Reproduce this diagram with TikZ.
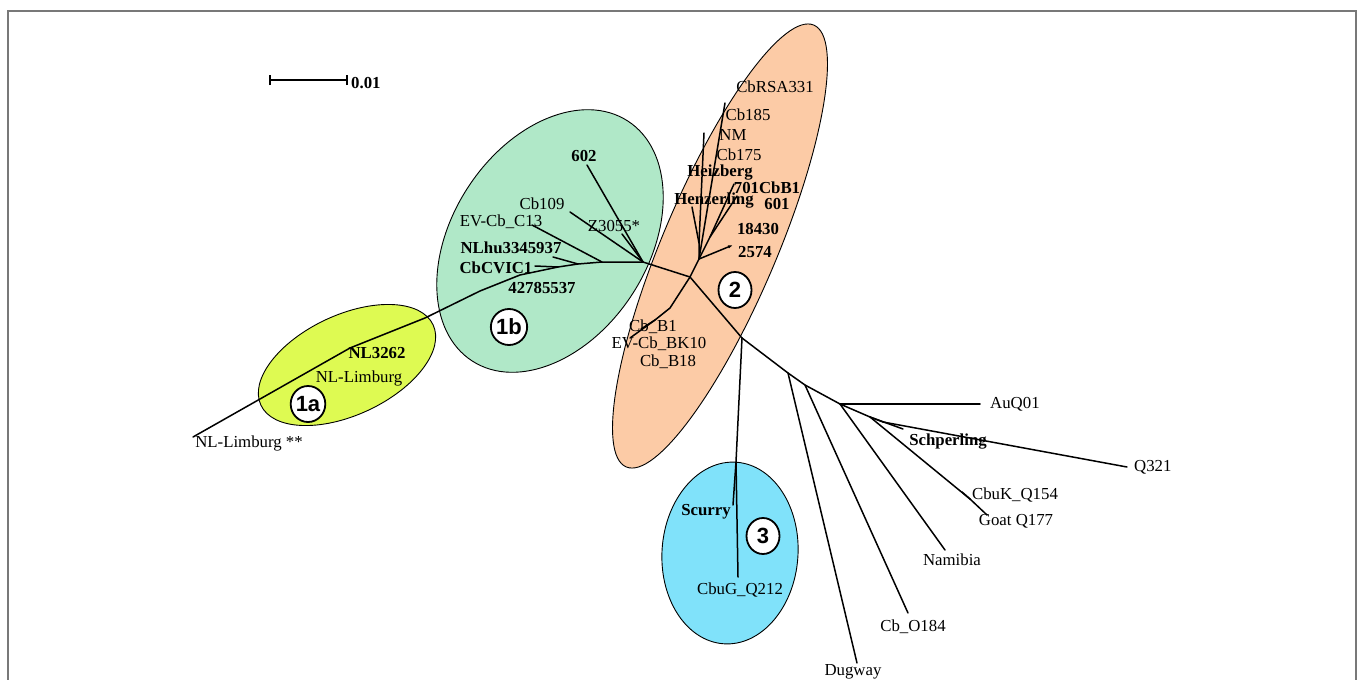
\documentclass[tikz,border=0pt]{standalone}
\usepackage{fontspec}
\setmainfont{Liberation Serif}
\newfontfamily\numfont{Liberation Sans}
\usetikzlibrary{shapes.geometric,arrows.meta}
\definecolor{cOr}{RGB}{252,203,166}
\definecolor{cGr}{RGB}{176,232,200}
\definecolor{cYe}{RGB}{222,250,82}
\definecolor{cBl}{RGB}{128,226,250}
\definecolor{frame}{RGB}{120,120,120}
\begin{document}
\begin{tikzpicture}[x=1pt,y=-1pt,
 br/.style={line width=1.5pt, line cap=round},
 lab/.style={font=\fontsize{16.8}{19}\selectfont, inner sep=0pt},
 blab/.style={font=\fontsize{16.8}{19}\selectfont\bfseries, inner sep=0pt},
 num/.style={ellipse, draw, fill=white, line width=1.8pt, minimum width=33pt, minimum height=36pt, inner sep=0pt, font=\numfont\bfseries\fontsize{22}{24}\selectfont},
 ell/.style={draw, line width=0.9pt}]
\useasboundingbox (0,0) rectangle (1358,680);
\draw[frame, line width=2pt] (8,681) -- (8,11) -- (1356,11) -- (1356,681);

% cluster ellipses
\draw[ell, fill=cYe, rotate around={25:(347,365)}] (347,365) ellipse [x radius=95pt, y radius=50pt];
\draw[ell, fill=cGr, rotate around={57:(550,241)}] (550,241) ellipse [x radius=143pt, y radius=98pt];
\draw[ell, fill=cOr, rotate around={67:(720,246)}] (720,246) ellipse [x radius=240pt, y radius=57pt];
\draw[ell, fill=cBl, rotate around={-4:(730,553)}] (730,553) ellipse [x radius=68pt, y radius=91pt];

% scale bar
\coordinate (sbA) at (270,80);
\coordinate (sbB) at (347,80);
\draw[line width=1.6pt] (sbA) -- (sbB);
\draw[line width=1.6pt] ([yshift=-5pt]sbA) -- ([yshift=5pt]sbA);
\draw[line width=1.6pt] ([yshift=-5pt]sbB) -- ([yshift=5pt]sbB);
\node[blab, anchor=west] (sbl) at (351,83) {0.01};

% internal nodes
\coordinate (c1) at (643,262);
\coordinate (c2) at (690,277);
\coordinate (n2) at (699,259);
\coordinate (n2h) at (699,243);
\coordinate (n2b) at (710,237);
\coordinate (l1) at (670,308);
\coordinate (l2) at (655,320);
\coordinate (c3) at (742,338);
\coordinate (s3) at (736,462);
\coordinate (r1) at (788,373);
\coordinate (r2) at (805,385);
\coordinate (r3) at (840,404);
\coordinate (r4) at (870,417);
\coordinate (r5) at (883,422);
\coordinate (gk) at (970,499);
\coordinate (b2) at (602,262);
\coordinate (b1) at (578,264);
\coordinate (b0) at (558,267);
\coordinate (s1) at (350,348);

% leaf ends
\coordinate (e602) at (587,165);
\coordinate (eZ) at (622,234);
\coordinate (eCb109) at (570,212);
\coordinate (eC13) at (532,225);
\coordinate (eNLhu) at (553,257);
\coordinate (eCVIC) at (535,266);
\coordinate (eNLL) at (193,437);
\coordinate (eCb185) at (725,103);
\coordinate (eNM) at (704,133);
\coordinate (eHenz) at (692,207);
\coordinate (e701) at (734,184);
\coordinate (e601) at (737,196);
\coordinate (e2574) at (733,245);
\coordinate (eB1) at (630,338);
\coordinate (eBK10) at (641,329);
\coordinate (eScurry) at (733,505);
\coordinate (eCbuG) at (738,577);
\coordinate (eDug) at (857,663);
\coordinate (eO184) at (908,613);
\coordinate (eNam) at (945,550);
\coordinate (eAu) at (980,404);
\coordinate (eSch) at (903,429);
\coordinate (eGoat) at (987,515);
\coordinate (eCbuK) at (962,492);
\coordinate (eQ321) at (1127,467);

% branches: group 1
\draw[br] (c1) -- (e602);
\draw[br] (c1) -- (eZ);
\draw[br] (c1) -- (eCb109);
\draw[br] (c1) -- (b2) -- (b1) -- (b0) -- (520,275) -- (480,291) -- (425,318) -- (s1) -- (eNLL);
\draw[br] (b2) -- (eC13);
\draw[br] (b1) -- (eNLhu);
\draw[br] (b0) -- (eCVIC);

% group 2
\draw[br] (c1) -- (c2) -- (n2) -- (n2h) -- (eNM);
\draw[br] (n2h) -- (eHenz);
\draw[br] (n2) -- (eCb185);
\draw[br] (n2) -- (n2b) -- (e701);
\draw[br] (n2b) -- (e601);
\draw[br, -{Latex[length=5pt,width=3.5pt]}] (n2) -- (e2574);
\draw[br] (c2) -- (l1) -- (l2) -- (eB1);
\draw[br] (l2) -- (eBK10);

% group 3
\draw[br] (c2) -- (c3) -- (s3) -- (eScurry);
\draw[br] (s3) -- (eCbuG);

% outgroup branches
\draw[br] (c3) -- (r1) -- (r2) -- (r3) -- (r4) -- (r5) -- (eQ321);
\draw[br] (r1) -- (eDug);
\draw[br] (r2) -- (eO184);
\draw[br] (r3) -- (eNam);
\draw[br] (r3) -- (eAu);
\draw[br] (r4) -- (gk) -- (eGoat);
\draw[br] (gk) -- (eCbuK);
\draw[br] (r4) -- (eSch);

% labels group 1
\node[blab] (t602) at (584,156) {602};
\node[lab] (tCb109) at (542,204) {Cb109};
\node[lab] (tC13) at (501,222) {EV-Cb\_C13};
\node[lab] (tZ) at (614,226) {Z3055*};
\node[blab] (tNLhu) at (511,248) {NLhu3345937};
\node[blab] (tCVIC) at (496,268) {CbCVIC1};
\node[blab] (t4278) at (542,288) {42785537};
\node[blab] (tNL3262) at (377,353) {NL3262};
\node[lab] (tNLL1) at (359,378) {NL-Limburg};
\node[lab] (tNLL2) at (249,443) {NL-Limburg **};

% labels group 2
\node[lab] (tRSA) at (775,87) {CbRSA331};
\node[lab] (tCb185) at (748,115) {Cb185};
\node[lab] (tNM) at (733,135) {NM};
\node[lab] (tCb175) at (739,155) {Cb175};
\node[blab] (tHeiz) at (720,173) {Heizberg};
\node[blab] (t701) at (767,188) {701CbB1};
\node[blab] (tHenz) at (714,201) {Henzerling};
\node[blab] (t601) at (777,204) {601};
\node[blab] (t18430) at (758,229) {18430};
\node[blab] (t2574) at (755,252) {2574};
\node[lab] (tB1) at (653,327) {Cb\_B1};
\node[lab] (tBK10) at (659,344) {EV-Cb\_BK10};
\node[lab] (tB18) at (668,362) {Cb\_B18};

% labels group 3
\node[blab] (tScurry) at (706,512) {Scurry};
\node[lab] (tCbuG) at (740,590) {CbuG\_Q212};

% outgroup labels
\node[lab, anchor=west] (tAu) at (990,404) {AuQ01};
\node[blab] (tSch) at (948,442) {Schperling};
\node[lab, anchor=west] (tQ321) at (1134,467) {Q321};
\node[lab] (tCbuK) at (1015,495) {CbuK\_Q154};
\node[lab] (tGoat) at (1016,521) {Goat Q177};
\node[lab] (tNam) at (952,560) {Namibia};
\node[lab] (tO184) at (913,627) {Cb\_O184};
\node[lab] (tDug) at (853,672) {Dugway};

% cluster numbers
\node[num] (k1a) at (308,404) {1a};
\node[num] (k1b) at (509,327) {1b};
\node[num] (k2) at (735,290) {2};
\node[num] (k3) at (763,536) {3};
\end{tikzpicture}
\end{document}
